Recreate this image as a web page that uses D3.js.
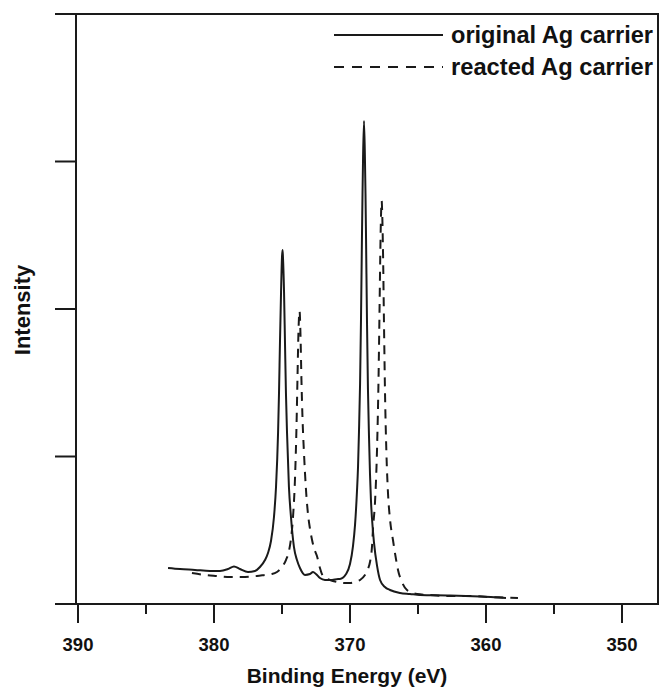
<!DOCTYPE html>
<html>
<head>
<meta charset="utf-8">
<script src="https://cdn.jsdelivr.net/npm/d3@7"></script>
<style>
  html, body { margin: 0; padding: 0; background: #fff; }
  svg { display: block; }
  text { font-family: "Liberation Sans", Arial, Helvetica, sans-serif; font-weight: bold; fill: #111; }
</style>
</head>
<body>
<svg id="chart" width="661" height="687"></svg>
<script>
// ---- data (binding energy in eV, intensity in arbitrary units) ----
const originalEnergy = [383.38, 382.50, 381.40, 380.29, 379.56, 378.97, 378.53, 378.09, 377.50, 376.99,
  376.62, 376.25, 376.03, 375.81, 375.59, 375.44, 375.29, 375.22, 375.15, 375.07,
  375.00, 374.96, 374.93, 374.85, 374.78, 374.71, 374.63, 374.49, 374.34, 374.12,
  373.90, 373.68, 373.31, 372.94, 372.72, 372.50, 372.21, 371.84, 371.32, 370.88,
  370.74, 370.29, 370.00, 369.78, 369.63, 369.49, 369.41, 369.34, 369.26, 369.19,
  369.12, 369.08, 369.04, 368.97, 368.90, 368.86, 368.82, 368.75, 368.68, 368.60,
  368.53, 368.46, 368.38, 368.24, 368.01, 367.79, 367.43, 367.06, 366.32, 365.59,
  364.85, 362.65, 360.44, 358.53];
const originalIntensity = [244, 237, 231, 224, 224, 237, 254, 237, 217, 224,
  251, 298, 346, 427, 590, 793, 1159, 1431, 1770, 2115,
  2353, 2400, 2353, 2115, 1770, 1431, 1159, 793, 590, 386,
  298, 244, 197, 203, 217, 203, 176, 163, 163, 170,
  170, 203, 271, 393, 536, 759, 929, 1166, 1492, 1939,
  2495, 2780, 3024, 3275, 3010, 2780, 2475, 1912, 1458, 1125,
  881, 705, 576, 420, 258, 163, 115, 95, 75, 68,
  61, 58, 51, 41];

const reactedEnergy = [381.62, 380.66, 379.78, 378.82, 377.72, 376.84, 376.25, 375.74, 375.37, 375.00,
  374.71, 374.49, 374.34, 374.19, 374.04, 373.93, 373.86, 373.79, 373.71, 373.64,
  373.57, 373.49, 373.38, 373.24, 373.09, 372.94, 372.79, 372.65, 372.43, 372.21,
  371.99, 371.47, 370.96, 370.37, 370.00, 369.63, 369.26, 368.90, 368.68, 368.53,
  368.38, 368.31, 368.16, 368.01, 367.90, 367.83, 367.76, 367.71, 367.67, 367.63,
  367.57, 367.50, 367.43, 367.32, 367.21, 367.06, 366.84, 366.62, 366.47, 366.18,
  365.81, 365.07, 364.12, 362.65, 361.18, 359.71, 358.60, 357.65];
const reactedIntensity = [210, 197, 190, 183, 183, 190, 197, 203, 217, 251,
  298, 359, 441, 590, 861, 1220, 1539, 1844, 1987, 1824,
  1519, 1254, 1017, 780, 610, 509, 434, 380, 325, 244,
  190, 163, 149, 142, 142, 149, 163, 197, 237, 285,
  393, 509, 692, 1058, 1539, 1987, 2448, 2665, 2732, 2644,
  2373, 1898, 1458, 1017, 759, 576, 434, 305, 231, 149,
  95, 68, 61, 54, 54, 47, 44, 41];

const xTicksMajor = [390, 380, 370, 360, 350];
const xTicksMinor = [385, 375, 365, 355];
const yTicks = [0, 1000, 2000, 3000, 4000];
const seriesNames = ["original Ag carrier", "reacted Ag carrier"];
const xTitle = "Binding Energy (eV)";
const yTitle = "Intensity";

// ---- layout ----
const svg = d3.select("#chart");
const frame = { left: 76, right: 658, top: 14, bottom: 604 };
const x = d3.scaleLinear().domain([390, 350]).range([78, 622]);
const y = d3.scaleLinear().domain([0, 4000]).range([frame.bottom, frame.top]);
const ink = "#1a1a1a";

// frame
svg.append("rect")
  .attr("x", frame.left).attr("y", frame.top)
  .attr("width", frame.right - frame.left).attr("height", frame.bottom - frame.top)
  .attr("fill", "none").attr("stroke", ink).attr("stroke-width", 2);

// y ticks (outward, no labels)
svg.append("g").selectAll("line").data(yTicks).join("line")
  .attr("x1", frame.left - 21).attr("x2", frame.left)
  .attr("y1", d => y(d)).attr("y2", d => y(d))
  .attr("stroke", ink).attr("stroke-width", 2);

// x ticks
svg.append("g").selectAll("line").data(xTicksMajor).join("line")
  .attr("x1", d => x(d)).attr("x2", d => x(d))
  .attr("y1", frame.bottom).attr("y2", frame.bottom + 19)
  .attr("stroke", ink).attr("stroke-width", 2);
svg.append("g").selectAll("line").data(xTicksMinor).join("line")
  .attr("x1", d => x(d)).attr("x2", d => x(d))
  .attr("y1", frame.bottom).attr("y2", frame.bottom + 10)
  .attr("stroke", ink).attr("stroke-width", 2);
svg.append("g").selectAll("text").data(xTicksMajor).join("text")
  .attr("x", d => x(d)).attr("y", 651)
  .attr("text-anchor", "middle").attr("font-size", 18.5)
  .text(d => d);

// axis titles
svg.append("text").attr("x", 347).attr("y", 683)
  .attr("text-anchor", "middle").attr("font-size", 21).text(xTitle);
svg.append("text")
  .attr("transform", "translate(30,310) rotate(-90)")
  .attr("text-anchor", "middle").attr("font-size", 22).text(yTitle);

// curves
const line = d3.line().x(d => x(d[0])).y(d => y(d[1])).curve(d3.curveMonotoneX);
const origPts = d3.zip(originalEnergy, originalIntensity);
const reactPts = d3.zip(reactedEnergy, reactedIntensity);

svg.append("path").datum(reactPts)
  .attr("d", line).attr("fill", "none")
  .attr("stroke", ink).attr("stroke-width", 2)
  .attr("stroke-dasharray", "9,7");
svg.append("path").datum(origPts)
  .attr("d", line).attr("fill", "none")
  .attr("stroke", ink).attr("stroke-width", 2);

// legend
const legend = svg.append("g");
const legRows = [{ name: seriesNames[0], dash: null, ly: 35, ty: 43 },
                 { name: seriesNames[1], dash: "10,8", ly: 67, ty: 75 }];
legRows.forEach(r => {
  legend.append("line").attr("x1", 334).attr("x2", 443)
    .attr("y1", r.ly).attr("y2", r.ly)
    .attr("stroke", ink).attr("stroke-width", 2)
    .attr("stroke-dasharray", r.dash);
  legend.append("text").attr("x", 451).attr("y", r.ty)
    .attr("font-size", 23)
    .attr("textLength", 202).attr("lengthAdjust", "spacingAndGlyphs")
    .text(r.name);
});
</script>
</body>
</html>
